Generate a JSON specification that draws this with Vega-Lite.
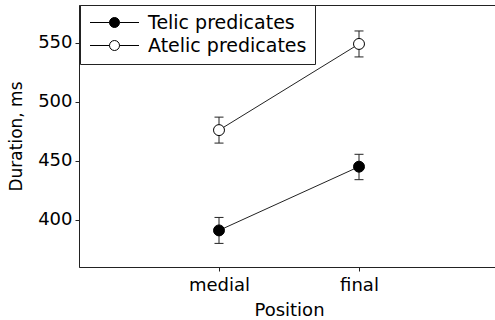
{
  "$schema": "https://vega.github.io/schema/vega-lite/v6.json",
  "width": 417,
  "height": 262,
  "autosize": {"type": "none"},
  "padding": {"left": 79, "top": 5, "right": 0, "bottom": 53},
  "background": "white",
  "config": {
    "font": "DejaVu Sans",
    "view": {"stroke": "#222", "strokeWidth": 1},
    "axis": {
      "domainColor": "#222", "tickColor": "#222", "labelColor": "black", "titleColor": "black",
      "labelFont": "DejaVu Sans", "titleFont": "DejaVu Sans", "labelFontSize": 18, "titleFontSize": 17,
      "titleFontWeight": "normal", "grid": false, "tickSize": 4
    }
  },
  "data": {
    "values": [
      {"position": "medial", "predicate": "Telic predicates", "mean": 391, "lo": 380, "hi": 402},
      {"position": "final", "predicate": "Telic predicates", "mean": 445, "lo": 434, "hi": 455.5},
      {"position": "medial", "predicate": "Atelic predicates", "mean": 476, "lo": 465, "hi": 487},
      {"position": "final", "predicate": "Atelic predicates", "mean": 549, "lo": 538, "hi": 560}
    ]
  },
  "encoding": {
    "x": {
      "field": "position", "type": "ordinal",
      "scale": {"type": "point", "domain": ["medial", "final"], "range": [140, 280], "padding": 0},
      "axis": {"title": "Position", "titleFontSize": 18, "labelAngle": 0, "domain": false, "labelPadding": 5, "titlePadding": 7}
    }
  },
  "layer": [
    {
      "mark": {"type": "rule", "color": "#222", "strokeWidth": 1},
      "encoding": {
        "y": {"field": "lo", "type": "quantitative", "title": "Duration, ms",
              "scale": {"domain": [360, 582], "nice": false, "zero": false},
              "axis": {"values": [400, 450, 500, 550], "labelPadding": 3, "titlePadding": 12}},
        "y2": {"field": "hi"},
        "detail": {"field": "predicate"}
      }
    },
    {
      "mark": {"type": "tick", "color": "#222", "size": 9, "thickness": 1, "opacity": 1},
      "encoding": {"y": {"field": "lo", "type": "quantitative", "title": "Duration, ms"}}
    },
    {
      "mark": {"type": "tick", "color": "#222", "size": 9, "thickness": 1, "opacity": 1},
      "encoding": {"y": {"field": "hi", "type": "quantitative", "title": "Duration, ms"}}
    },
    {
      "mark": {"type": "line", "color": "#222", "strokeWidth": 1},
      "encoding": {
        "y": {"field": "mean", "type": "quantitative", "title": "Duration, ms"},
        "detail": {"field": "predicate"}
      }
    },
    {
      "mark": {"type": "circle", "size": 120, "stroke": "black", "strokeWidth": 1, "opacity": 1},
      "encoding": {
        "y": {"field": "mean", "type": "quantitative", "title": "Duration, ms"},
        "fill": {
          "field": "predicate", "type": "nominal",
          "scale": {"domain": ["Telic predicates", "Atelic predicates"], "range": ["black", "white"]},
          "legend": {
            "title": null, "orient": "none", "legendX": 1, "legendY": 0,
            "strokeColor": "#222", "fillColor": "white", "padding": 8,
            "symbolType": "M-4.9,0H-1M1,0H4.9M1,0A1,1,0,1,1,-1,0A1,1,0,1,1,1,0Z",
            "symbolSize": 100, "symbolStrokeColor": "black", "symbolStrokeWidth": 1, "symbolOpacity": 1,
            "symbolOffset": 17,
            "labelFont": "DejaVu Sans", "labelFontSize": 19, "labelColor": "black",
            "labelOffset": 24, "rowPadding": 3
          }
        }
      }
    }
  ]
}
